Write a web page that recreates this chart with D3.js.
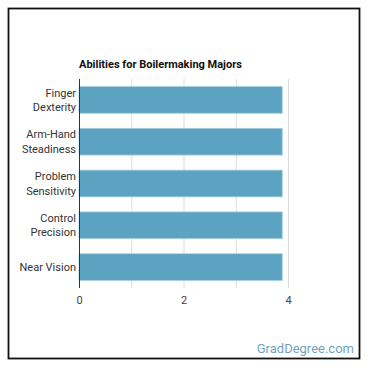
<!DOCTYPE html>
<html>
<head>
<meta charset="utf-8">
<script src="https://cdnjs.cloudflare.com/ajax/libs/d3/7.8.5/d3.min.js"></script>
<style>
  body { margin: 0; background: #fff; }
  text { font-family: Roboto, "Noto Sans", sans-serif; }
</style>
</head>
<body>
<div id="chart"></div>
<script>
// data
var abilities = ["Finger Dexterity", "Arm-Hand Steadiness", "Problem Sensitivity", "Control Precision", "Near Vision"];
var labelLines = [["Finger", "Dexterity"], ["Arm-Hand", "Steadiness"], ["Problem", "Sensitivity"], ["Control", "Precision"], ["Near Vision"]];
var scores = [3.89, 3.89, 3.89, 3.89, 3.89];
var xTicks = [0, 2, 4];
var gridTicks = [0, 1, 2, 3, 4];

var width = 370, height = 370;
var marginLeft = 79, plotRight = 288, plotTop = 79, plotBottom = 288;

var svg = d3.select("#chart").append("svg")
  .attr("width", width)
  .attr("height", height);

// frame
svg.append("rect")
  .attr("x", 8.5).attr("y", 8.5)
  .attr("width", 351).attr("height", 350)
  .attr("fill", "#fff")
  .attr("stroke", "#111")
  .attr("stroke-width", 1.8);

var xScale = d3.scaleLinear().domain([0, 4]).range([marginLeft, plotRight]);
var yScale = d3.scaleBand().domain(abilities).range([plotTop, plotBottom]).paddingInner(0.36).paddingOuter(0.18);

// gridlines
svg.append("g").selectAll("line")
  .data(gridTicks.slice(1))
  .enter().append("line")
  .attr("x1", function(d){ return xScale(d) + 0.5; })
  .attr("x2", function(d){ return xScale(d) + 0.5; })
  .attr("y1", plotTop).attr("y2", plotBottom)
  .attr("stroke", "#dcdcdc").attr("stroke-width", 1);

// bars
svg.append("g").selectAll("rect")
  .data(scores)
  .enter().append("rect")
  .attr("x", xScale(0))
  .attr("y", function(d, i){ return yScale(abilities[i]); })
  .attr("width", function(d){ return xScale(d) - xScale(0); })
  .attr("height", yScale.bandwidth())
  .attr("fill", "#5ca3c1")
  .attr("stroke", "#a9d0e0")
  .attr("stroke-width", 0.8);

// y axis line
svg.append("line")
  .attr("x1", marginLeft + 0.5).attr("x2", marginLeft + 0.5)
  .attr("y1", plotTop).attr("y2", plotBottom)
  .attr("stroke", "#333").attr("stroke-width", 1);

// category labels
var lab = svg.append("g").selectAll("text")
  .data(labelLines)
  .enter().append("text")
  .attr("x", marginLeft - 3)
  .attr("y", function(d, i){ return yScale(abilities[i]) + yScale.bandwidth() / 2; })
  .attr("text-anchor", "end")
  .attr("font-size", "11px")
  .attr("fill", "#333");
lab.selectAll("tspan")
  .data(function(d){ return d.map(function(t, j){ return {t: t, j: j, n: d.length}; }); })
  .enter().append("tspan")
  .attr("x", marginLeft - 3)
  .attr("dy", function(d){ return d.j === 0 ? ((d.n === 1 ? 0.35 : -0.3) + "em") : "1.3em"; })
  .text(function(d){ return d.t; });

// x axis
var xAxis = d3.axisBottom(xScale).tickValues(xTicks).tickFormat(d3.format("d")).tickSize(0).tickPadding(8);
var gx = svg.append("g")
  .attr("transform", "translate(0," + plotBottom + ")")
  .call(xAxis);
gx.select(".domain").remove();
gx.selectAll("text")
  .attr("font-size", "11px")
  .attr("font-family", "Roboto, sans-serif")
  .attr("fill", "#444");

// title
svg.append("text")
  .attr("x", 79).attr("y", 68)
  .attr("font-size", "11px")
  .attr("font-weight", "bold")
  .attr("fill", "#111")
  .text("Abilities for Boilermaking Majors");

// watermark
svg.append("text")
  .attr("x", 354).attr("y", 353)
  .attr("text-anchor", "end")
  .attr("font-size", "13px")
  .attr("fill", "#6fa3bd")
  .text("GradDegree.com");
</script>
</body>
</html>
